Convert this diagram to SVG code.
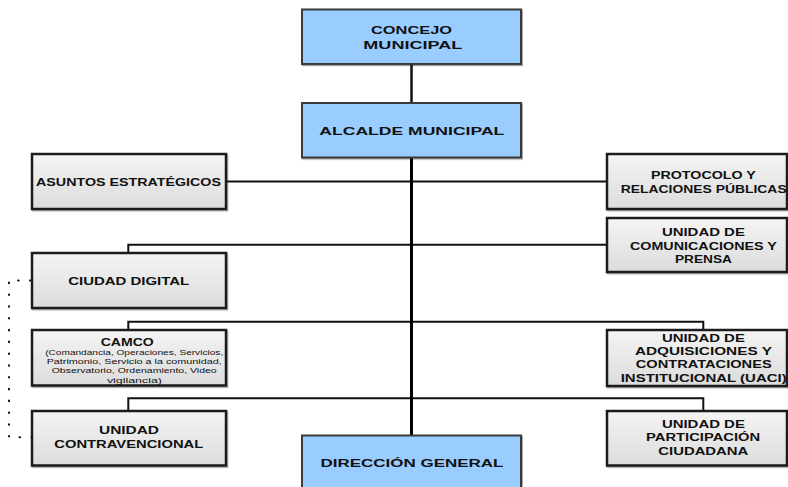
<svg xmlns="http://www.w3.org/2000/svg" width="788" height="487" viewBox="0 0 788 487">
<defs>
<linearGradient id="gray" x1="0" y1="0" x2="0" y2="1">
<stop offset="0" stop-color="#f4f4f4"/>
<stop offset="1" stop-color="#dcdcdc"/>
</linearGradient>
<filter id="sh" x="-5%" y="-5%" width="112%" height="120%">
<feDropShadow dx="1" dy="1.2" stdDeviation="0.7" flood-color="#000" flood-opacity="0.35"/>
</filter>
<style>
.blue{fill:#99ccff;stroke:#3a3a3a;stroke-width:2;filter:url(#sh)}
.grayb{fill:url(#gray);stroke:#1a1a1a;stroke-width:2.5;filter:url(#sh)}
text{font-family:"Liberation Sans",Arial,sans-serif;font-weight:bold;font-size:11.6px;fill:#111;text-anchor:middle}
text.small{font-weight:normal;font-size:8px}
.ln{fill:none;stroke:#111;stroke-width:2}
.main{fill:none;stroke:#000;stroke-width:3}
.dot{fill:none;stroke:#111;stroke-width:2;stroke-dasharray:0.6 11.2;stroke-linecap:round}
</style>
</defs>
<rect width="788" height="487" fill="#fff"/>
<g id="connectors">
<line class="ln" x1="411.5" y1="64" x2="411.5" y2="103" style="stroke-width:2.5"/>
<line class="ln" x1="226" y1="181.5" x2="607" y2="181.5"/>
<path class="ln" d="M128.3,253 V244.7 H607"/>
<path class="ln" d="M128.3,330 V321.7 H703.3 V330"/>
<path class="ln" d="M128.3,411 V398.2 H703.3 V411"/>
<line class="main" x1="411.5" y1="157" x2="411.5" y2="435.5"/>
<path class="dot" d="M30.5,280.5 H9 V437.3 H32"/>
</g>
<g id="concejo">
<rect class="blue" x="302" y="9.5" width="219" height="54.5"/>
<text x="411.5" y="34" textLength="81" lengthAdjust="spacingAndGlyphs">CONCEJO</text>
<text x="412.8" y="49" textLength="99" lengthAdjust="spacingAndGlyphs">MUNICIPAL</text>
</g>
<g id="alcalde">
<rect class="blue" x="302" y="103" width="219" height="54.5"/>
<text x="411.8" y="134.7" textLength="185" lengthAdjust="spacingAndGlyphs">ALCALDE MUNICIPAL</text>
</g>
<g id="asuntos">
<rect class="grayb" x="32" y="154" width="194" height="55"/>
<text x="128.5" y="186" textLength="185" lengthAdjust="spacingAndGlyphs">ASUNTOS ESTRATÉGICOS</text>
</g>
<g id="protocolo">
<rect class="grayb" x="607" y="154" width="180" height="55"/>
<text x="703.4" y="179.2" textLength="105" lengthAdjust="spacingAndGlyphs">PROTOCOLO Y</text>
<text x="703.7" y="192.5" textLength="166" lengthAdjust="spacingAndGlyphs">RELACIONES PÚBLICAS</text>
</g>
<g id="comunicaciones">
<rect class="grayb" x="607" y="218" width="180" height="54"/>
<text x="703.4" y="235.5" textLength="83" lengthAdjust="spacingAndGlyphs">UNIDAD DE</text>
<text x="703.4" y="249.5" textLength="147" lengthAdjust="spacingAndGlyphs">COMUNICACIONES Y</text>
<text x="703.4" y="262.8" textLength="57" lengthAdjust="spacingAndGlyphs">PRENSA</text>
</g>
<g id="ciudad-digital">
<rect class="grayb" x="32" y="253" width="194" height="55"/>
<text x="128.7" y="284.5" textLength="121" lengthAdjust="spacingAndGlyphs">CIUDAD DIGITAL</text>
</g>
<g id="camco">
<rect class="grayb" x="32" y="330" width="194" height="55.5"/>
<text x="127.2" y="346" textLength="53" lengthAdjust="spacingAndGlyphs">CAMCO</text>
<text class="small" x="134.2" y="354.9" textLength="178" lengthAdjust="spacingAndGlyphs">(Comandancia, Operaciones, Servicios,</text>
<text class="small" x="134.2" y="364.1" textLength="175" lengthAdjust="spacingAndGlyphs">Patrimonio, Servicio a la comunidad,</text>
<text class="small" x="134.2" y="373.3" textLength="165" lengthAdjust="spacingAndGlyphs">Observatorio, Ordenamiento, Video</text>
<text class="small" x="134.4" y="382.5" textLength="55" lengthAdjust="spacingAndGlyphs">vigilancia)</text>
</g>
<g id="uaci">
<rect class="grayb" x="607" y="330" width="180" height="56"/>
<text x="703.4" y="341.7" textLength="83" lengthAdjust="spacingAndGlyphs">UNIDAD DE</text>
<text x="703.4" y="355" textLength="137" lengthAdjust="spacingAndGlyphs">ADQUISICIONES Y</text>
<text x="703.7" y="368.3" textLength="136" lengthAdjust="spacingAndGlyphs">CONTRATACIONES</text>
<text x="703.7" y="381.7" textLength="166" lengthAdjust="spacingAndGlyphs">INSTITUCIONAL (UACI)</text>
</g>
<g id="contravencional">
<rect class="grayb" x="32" y="411" width="194" height="54.5"/>
<text x="129" y="434.3" textLength="60" lengthAdjust="spacingAndGlyphs">UNIDAD</text>
<text x="128.8" y="447.6" textLength="149" lengthAdjust="spacingAndGlyphs">CONTRAVENCIONAL</text>
</g>
<g id="participacion">
<rect class="grayb" x="607" y="411" width="180" height="54.5"/>
<text x="703.4" y="427.6" textLength="83" lengthAdjust="spacingAndGlyphs">UNIDAD DE</text>
<text x="703.1" y="441" textLength="114" lengthAdjust="spacingAndGlyphs">PARTICIPACIÓN</text>
<text x="703.3" y="455" textLength="90" lengthAdjust="spacingAndGlyphs">CIUDADANA</text>
</g>
<g id="direccion">
<rect class="blue" x="302" y="435.5" width="219" height="60"/>
<text x="412" y="466.7" textLength="183" lengthAdjust="spacingAndGlyphs">DIRECCIÓN GENERAL</text>
</g>
</svg>
